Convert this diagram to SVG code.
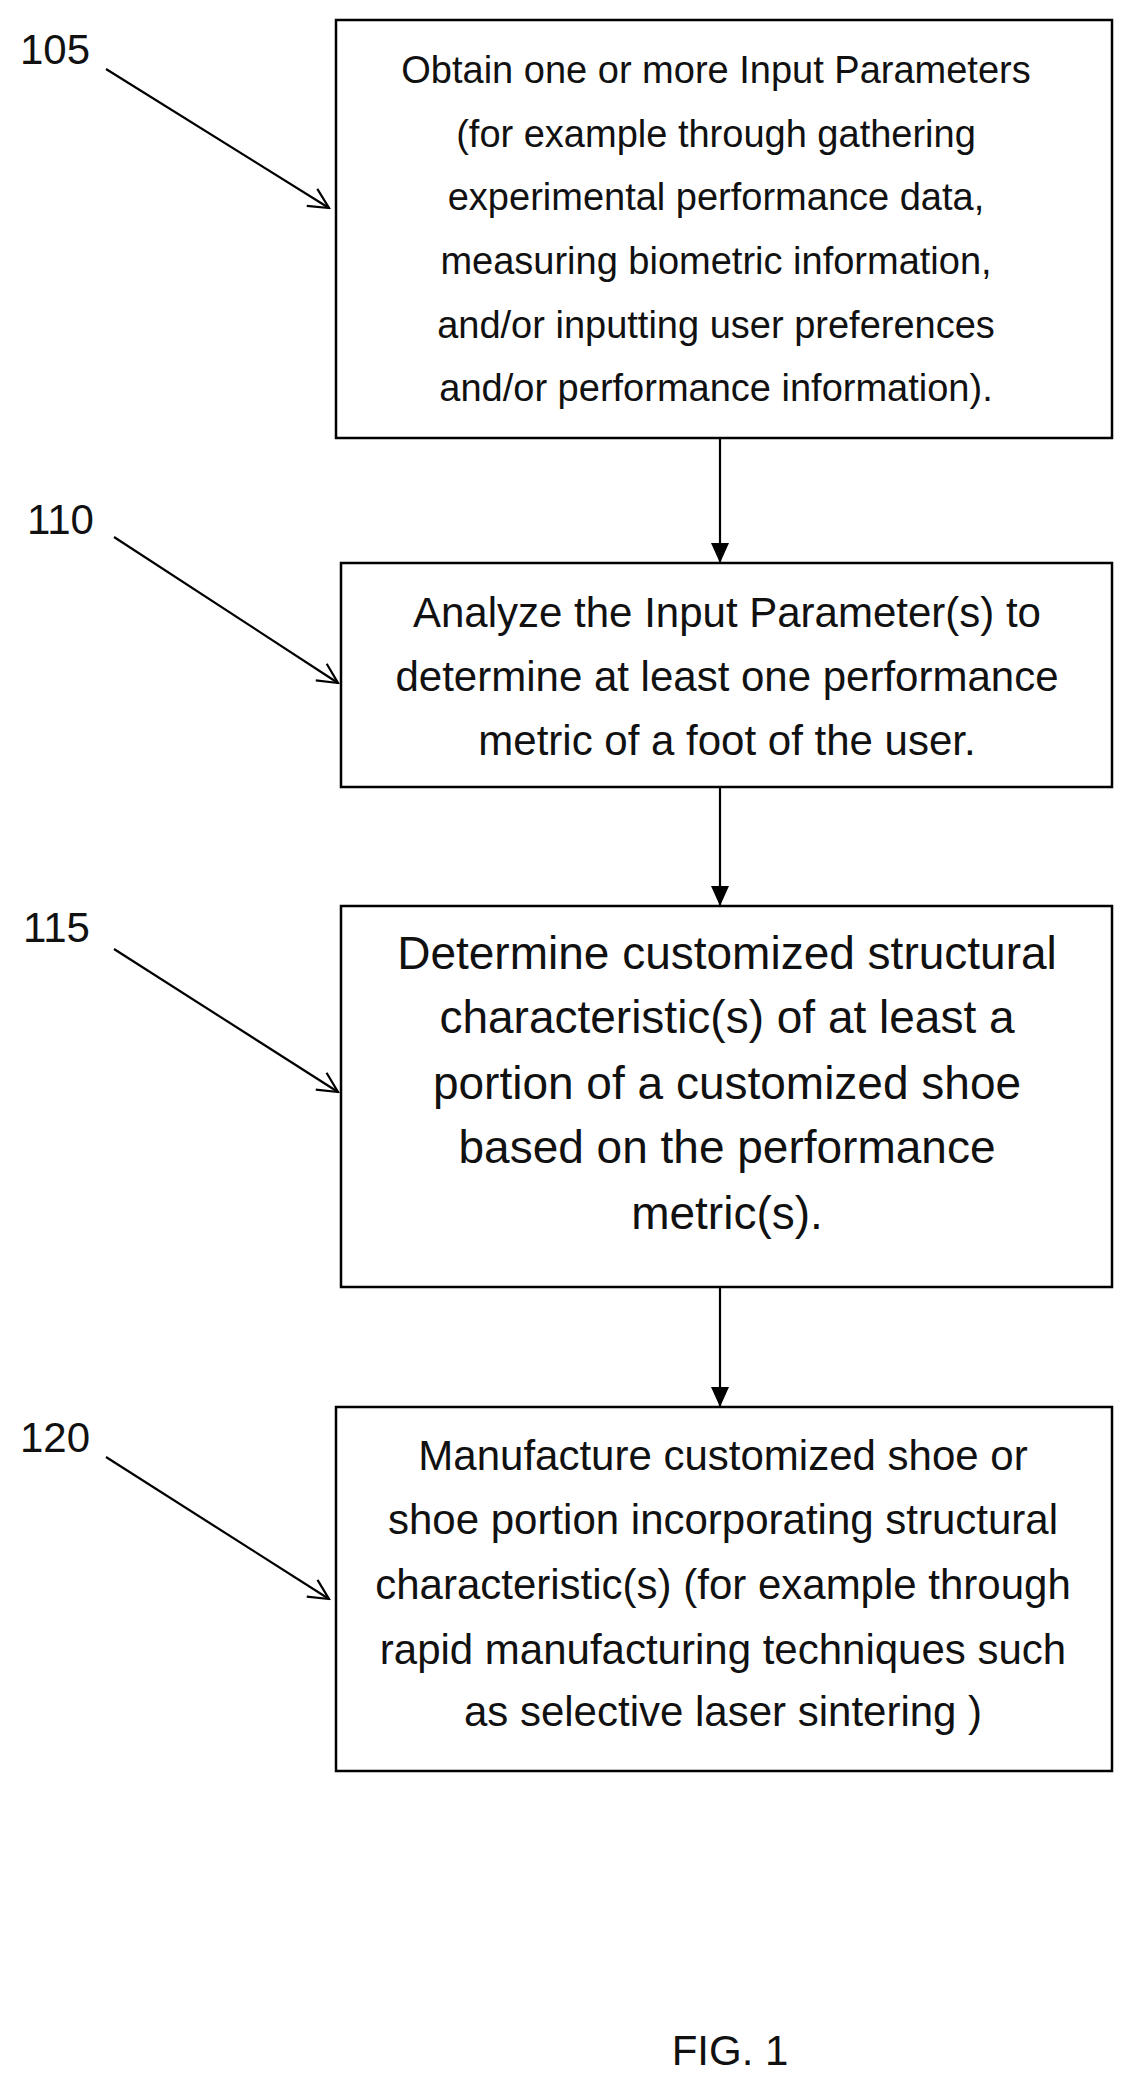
<svg xmlns="http://www.w3.org/2000/svg" width="1139" height="2087" viewBox="0 0 1139 2087">
<style>
rect{fill:#fff;stroke:#000;stroke-width:2.5}
text{font-family:"Liberation Sans",Arial,sans-serif;fill:#111;text-anchor:middle}
.t1{font-size:38px}
.t2{font-size:42px}
.t3{font-size:46px}
.n{font-size:42px;text-anchor:start}
.c{stroke:#000;stroke-width:2.2;fill:none}
</style>
<defs>
<marker id="ah" markerWidth="20" markerHeight="20" refX="19" refY="10" orient="auto" markerUnits="userSpaceOnUse" viewBox="0 0 20 20"><path d="M0,1L20,10L0,19z" fill="#000"/></marker>
<marker id="oh" markerWidth="26" markerHeight="26" refX="24" refY="13" orient="auto" markerUnits="userSpaceOnUse" viewBox="0 0 26 26"><path d="M4,3L24,13L4,23" fill="none" stroke="#000" stroke-width="2.2"/></marker>
</defs>
<rect width="1139" height="2087" style="fill:#fff;stroke:none"/>
<g id="connectors">
<path class="c" d="M720,438L720,562" marker-end="url(#ah)"/>
<path class="c" d="M720,787L720,905" marker-end="url(#ah)"/>
<path class="c" d="M720,1287L720,1406" marker-end="url(#ah)"/>
<path class="c" d="M106,69L329,208" marker-end="url(#oh)"/>
<path class="c" d="M114,537L338,683" marker-end="url(#oh)"/>
<path class="c" d="M114,949L338,1092" marker-end="url(#oh)"/>
<path class="c" d="M106,1457L329,1599" marker-end="url(#oh)"/>
</g>
<g id="n105">
<rect x="336" y="20" width="776" height="418"/>
<text class="t1" x="716" y="83">Obtain one or more Input Parameters</text>
<text class="t1" x="716" y="147">(for example through gathering</text>
<text class="t1" x="716" y="210">experimental performance data,</text>
<text class="t1" x="716" y="274">measuring biometric information,</text>
<text class="t1" x="716" y="338">and/or inputting user preferences</text>
<text class="t1" x="716" y="401">and/or performance information).</text>
<text class="n" x="20" y="64">105</text>
</g>
<g id="n110">
<rect x="341" y="563" width="771" height="224"/>
<text class="t2" x="727" y="627">Analyze the Input Parameter(s) to</text>
<text class="t2" x="727" y="691">determine at least one performance</text>
<text class="t2" x="727" y="755">metric of a foot of the user.</text>
<text class="n" x="27" y="534">110</text>
</g>
<g id="n115">
<rect x="341" y="906" width="771" height="381"/>
<text class="t3" x="727" y="969">Determine customized structural</text>
<text class="t3" x="727" y="1033">characteristic(s) of at least a</text>
<text class="t3" x="727" y="1099">portion of a customized shoe</text>
<text class="t3" x="727" y="1163">based on the performance</text>
<text class="t3" x="727" y="1229">metric(s).</text>
<text class="n" x="23" y="942">115</text>
</g>
<g id="n120">
<rect x="336" y="1407" width="776" height="364"/>
<text class="t2" x="723" y="1470">Manufacture customized shoe or</text>
<text class="t2" x="723" y="1534">shoe portion incorporating structural</text>
<text class="t2" x="723" y="1599">characteristic(s) (for example through</text>
<text class="t2" x="723" y="1664">rapid manufacturing techniques such</text>
<text class="t2" x="723" y="1726">as selective laser sintering )</text>
<text class="n" x="20" y="1452">120</text>
</g>
<text x="730" y="2065" style="font-size:42px">FIG. 1</text>
</svg>
